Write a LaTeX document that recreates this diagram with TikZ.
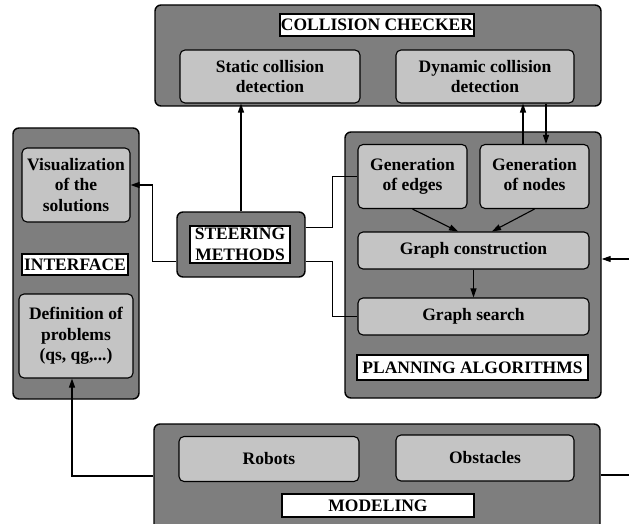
\documentclass[tikz,border=0pt]{standalone}
\usepackage{fontspec}
\setmainfont{Liberation Serif}
\usetikzlibrary{arrows.meta}

\definecolor{blockgray}{RGB}{126,126,126}
\definecolor{boxgray}{RGB}{196,196,196}

\begin{document}
\begin{tikzpicture}[x=1pt,y=-1pt,
  font=\bfseries\fontsize{17.5}{20.5}\selectfont,
  block/.style={draw,line width=1.4pt,rounded corners=6pt,fill=blockgray},
  box/.style={draw,line width=1.1pt,rounded corners=5pt,fill=boxgray,align=center},
  headbox/.style={draw,line width=1.1pt,fill=white,inner sep=1pt,align=center},
  link/.style={line width=1.1pt},
  flow/.style={link,-{Triangle[length=9pt,width=6pt]}}]
\fill[white] (0,0) rectangle (629,524);
\clip (0,0) rectangle (629,524);

% Collision checker
\node[block,minimum width=446pt,minimum height=101pt] (checker) at (378,55.5) {};
\node[headbox,minimum width=194pt,minimum height=22pt] (checkertitle) at (377,25) {COLLISION CHECKER};
\node[box,minimum width=180pt,minimum height=53pt] (static) at (270,76.5) {Static collision\\detection};
\node[box,minimum width=178pt,minimum height=53pt] (dynamic) at (485,76.5) {Dynamic collision\\detection};

% Interface
\node[block,minimum width=126pt,minimum height=271pt] (interface) at (76,263.5) {};
\node[box,minimum width=108pt,minimum height=74pt] (visual) at (76,185) {Visualization\\of the\\solutions};
\node[headbox,minimum width=106pt,minimum height=21pt] (interfacetitle) at (75,264.5) {INTERFACE};
\node[box,minimum width=114pt,minimum height=84pt] (definition) at (76,336) {Definition of\\problems\\(qs, qg,...)};

% Steering methods
\node[block,minimum width=128pt,minimum height=65pt] (steering) at (241,244.5) {};
\node[headbox,minimum width=100pt,minimum height=37pt] (steeringtitle) at (240,244.5) {STEERING\\METHODS};

% Planning algorithms
\node[block,minimum width=256pt,minimum height=266pt] (planning) at (473,265) {};
\node[box,minimum width=109pt,minimum height=64pt] (edges) at (412.5,176.5) {Generation\\of edges};
\node[box,minimum width=109pt,minimum height=64pt] (nodesgen) at (534.5,176.5) {Generation\\of nodes\vphantom{g}};
\node[box,minimum width=231pt,minimum height=37pt] (construction) at (473.5,250.5) {Graph construction};
\node[box,minimum width=231pt,minimum height=37pt] (search) at (473.5,316.5) {Graph search};
\node[headbox,minimum width=231pt,minimum height=25pt] (planningtitle) at (472.5,367.5) {PLANNING ALGORITHMS};

% Modeling
\node[block,minimum width=446pt,minimum height=111pt] (modeling) at (377,479.5) {};
\node[box,minimum width=180pt,minimum height=45pt] (robots) at (269,459) {Robots};
\node[box,minimum width=178pt,minimum height=46pt] (obstacles) at (485,458) {Obstacles};
\node[headbox,minimum width=192pt,minimum height=23pt] (modelingtitle) at (378,505.5) {MODELING};

% Steering methods links
\draw[flow] (steering.north) -- (steering.north |- static.south);
\draw[flow] ([yshift=-17pt]steering.west) -- ++(-24,0) |- (visual.east);
\draw[link] ([yshift=17pt]steering.east) -- ++(27,0) |- (edges.west);
\draw[link] ([yshift=-17pt]steering.east) -- ++(27,0) |- (search.west);

% Nodes <-> dynamic collision detection
\coordinate (nodesup) at ([xshift=-11.5pt]nodesgen.north);
\coordinate (nodesdown) at ([xshift=11.5pt]nodesgen.north);
\draw[flow] (nodesup) -- (nodesup |- dynamic.south);
\draw[flow] (nodesdown |- dynamic.south) -- (nodesdown);

% Graph building
\draw[flow] (edges.south) -- ([xshift=-15.5pt]construction.north);
\draw[flow] (nodesgen.south) -- ([xshift=18.5pt]construction.north);
\draw[flow] (construction.south) -- (search.north);

% Modeling outputs
\draw[flow] ([yshift=3.5pt]modeling.west) -| ([xshift=-4pt]definition.south);
\draw[flow] ([yshift=4.5pt]modeling.east) -- ++(40,0) |- ([yshift=6pt]planning.east);
\end{tikzpicture}
\end{document}
